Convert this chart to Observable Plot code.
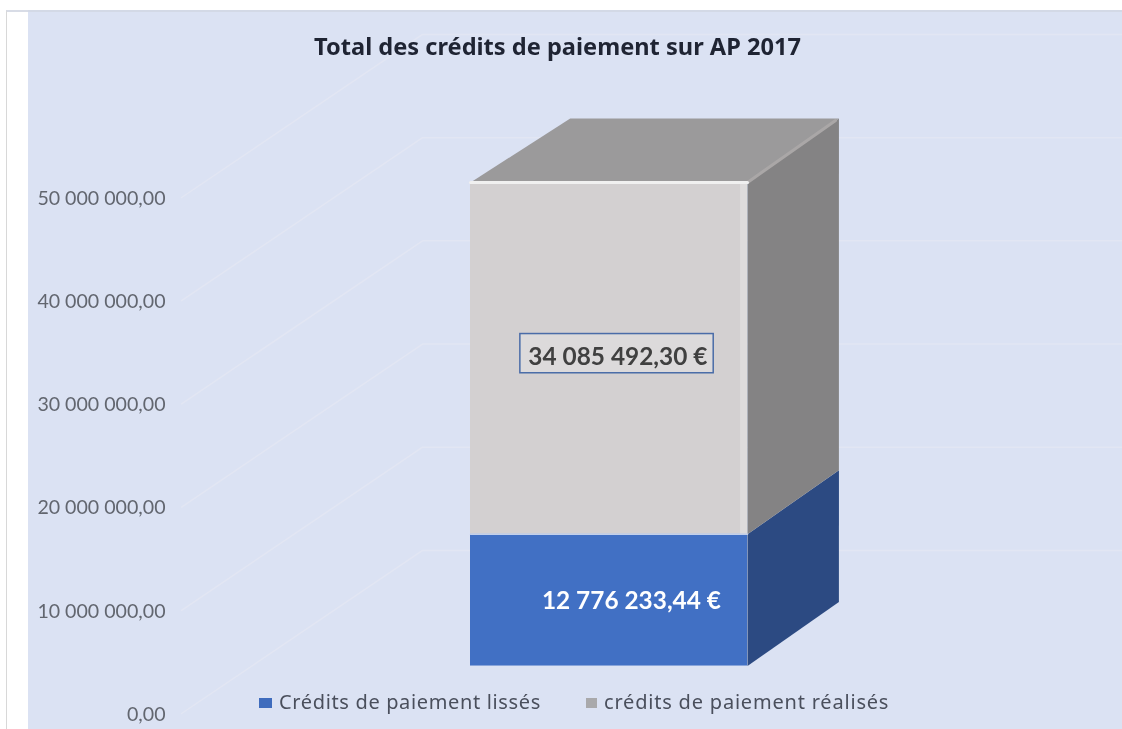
<!DOCTYPE html>
<html lang="fr">
<head>
<meta charset="utf-8">
<script src="https://cdn.jsdelivr.net/npm/d3@7"></script>
<script src="https://cdn.jsdelivr.net/npm/@observablehq/plot@0.6"></script>
<style>
  html,body{margin:0;padding:0;background:#fff;width:1122px;height:729px;overflow:hidden}
  #edge{position:absolute;left:6px;top:10px;bottom:0;width:22px;background:#fff;border-left:1px solid #d8d8d8;border-top:2px solid #d8dce6;box-sizing:border-box}
  #panel{position:absolute;left:28px;top:10px;right:0;bottom:0;background:#dbe2f3;border-top:2px solid #d3d9e6;box-sizing:border-box}
  #chart{position:absolute;left:0;top:0;filter:blur(.5px)}
  #chart svg{display:block;background:transparent}
  h1{position:absolute;left:0;width:1115px;top:30px;margin:0;text-align:center;font:700 23.6px "Noto Sans",sans-serif;color:#1f2433;filter:blur(.4px)}
  .lg{position:absolute;top:688px;font:400 20px "Noto Sans",sans-serif;letter-spacing:.65px;color:#4a4f5c;white-space:nowrap;filter:blur(.45px)}
  .sw{position:absolute;top:698px;height:10px;filter:blur(.4px)}
</style>
</head>
<body>
<div id="edge"></div>
<div id="panel"></div>
<div id="chart"></div>
<h1>Total des crédits de paiement sur AP 2017</h1>
<span class="sw" style="left:259px;width:13px;background:#3f6cbd"></span>
<span class="lg" style="left:279px">Crédits de paiement lissés</span>
<span class="sw" style="left:586px;width:11px;background:#a9a9ab"></span>
<span class="lg" style="left:604px;letter-spacing:.8px">crédits de paiement réalisés</span>
<script>
const categories = ["Crédits de paiement lissés", "crédits de paiement réalisés"];
const values = [12776233.44, 34085492.30];
const valueLabels = ["12 776 233,44 €", "34 085 492,30 €"];
const tickValues = [0, 10000000, 20000000, 30000000, 40000000, 50000000];
const tickLabels = ["0,00", "10 000 000,00", "20 000 000,00", "30 000 000,00", "40 000 000,00", "50 000 000,00"];

// Projection of the 3D box, in scale units
const base = 4.6e6, sideDx = 0.33, sideDy = 6.2e6, topLeftDx = 0.36;
const wallDx = 0.87, wallDy = 15.8e6, wallStart = -1.043, wallEnd = 2.365;

const y0 = base, y1 = base + values[0], y2 = base + values[0] + values[1];
const poly = (pts, fill) => Plot.line(pts, {x: d => d[0], y: d => d[1], fill, stroke: "none"});

const grid = tickValues.map(t =>
  Plot.line([[wallStart, t], [wallStart + wallDx, t + wallDy], [wallEnd, t + wallDy]],
    {x: d => d[0], y: d => d[1], stroke: "#e2e6f3", strokeWidth: 1.5})
);

const midLow = y0 + values[0] / 2, midHigh = y1 + values[1] / 2;

const plot = Plot.plot({
  width: 1122, height: 729,
  marginLeft: 165, marginTop: 0, marginRight: 0, marginBottom: 0,
  style: {background: "transparent", overflow: "visible"},
  x: {type: "linear", domain: [0, 1], range: [470, 747], axis: null},
  y: {type: "linear", domain: [0, 50000000], range: [713, 197], axis: null},
  marks: [
    ...grid,
    Plot.axisY({
      ticks: tickValues,
      tickSize: 0, tickPadding: 0,
      tickFormat: v => tickLabels[tickValues.indexOf(v)],
      label: null,
      fontSize: 19.6,
      fontFamily: "Lato, sans-serif",
      fill: "#62666f",
      fontVariant: "normal",
      dy: 1
    }),
    // right side
    poly([[1, y0], [1 + sideDx, y0 + sideDy], [1 + sideDx, y1 + sideDy], [1, y1]], "#2c4a82"),
    poly([[1, y1], [1 + sideDx, y1 + sideDy], [1 + sideDx, y2 + sideDy], [1, y2]], "#848384"),
    // top
    poly([[0, y2], [topLeftDx, y2 + sideDy], [1 + sideDx, y2 + sideDy], [1, y2]], "#9b9a9b"),
    Plot.line([[1, y2], [1 + sideDx - 0.012, y2 + sideDy - 0.2e6]], {x: d => d[0], y: d => d[1], stroke: "#aaa7a7", strokeWidth: 3}),
    // front
    Plot.rect([{a: y0, b: y1, c: "#4170c4"}, {a: y1, b: y2, c: "#d3d0d1"}],
      {x1: () => 0, x2: () => 1, y1: "a", y2: "b", fill: "c"}),
    Plot.rect([{a: y1, b: y2}], {x1: () => 0.975, x2: () => 1, y1: "a", y2: "b", fill: "#dedcdc"}),
    Plot.line([[0, y2], [1, y2]], {x: d => d[0], y: d => d[1], stroke: "#f0f0f0", strokeWidth: 3}),
    Plot.line([[0, y1], [1, y1]], {x: d => d[0], y: d => d[1], stroke: "#c3d0ea", strokeWidth: 1.5}),
    // data labels
    Plot.rect([{m: midHigh}], {x1: () => 0.18, x2: () => 0.878, y1: d => d.m - 1.9e6 + 0.45e6, y2: d => d.m + 1.9e6 + 0.45e6,
      fill: "#dcdadb", stroke: "#4a6ca8", strokeWidth: 1.5}),
    Plot.text([valueLabels[1]], {x: () => 0.532, y: () => midHigh, dy: -1, text: d => d, fontFamily: "Lato, sans-serif",
      fontWeight: 700, fontSize: 24.4, fill: "#404040"}),
    Plot.text([valueLabels[0]], {x: () => 0.581, y: () => midLow, dy: 1, text: d => d, fontFamily: "Lato, sans-serif",
      fontWeight: 700, fontSize: 24.4, fill: "#ffffff"})
  ]
});
document.getElementById("chart").append(plot);
</script>
</body>
</html>
